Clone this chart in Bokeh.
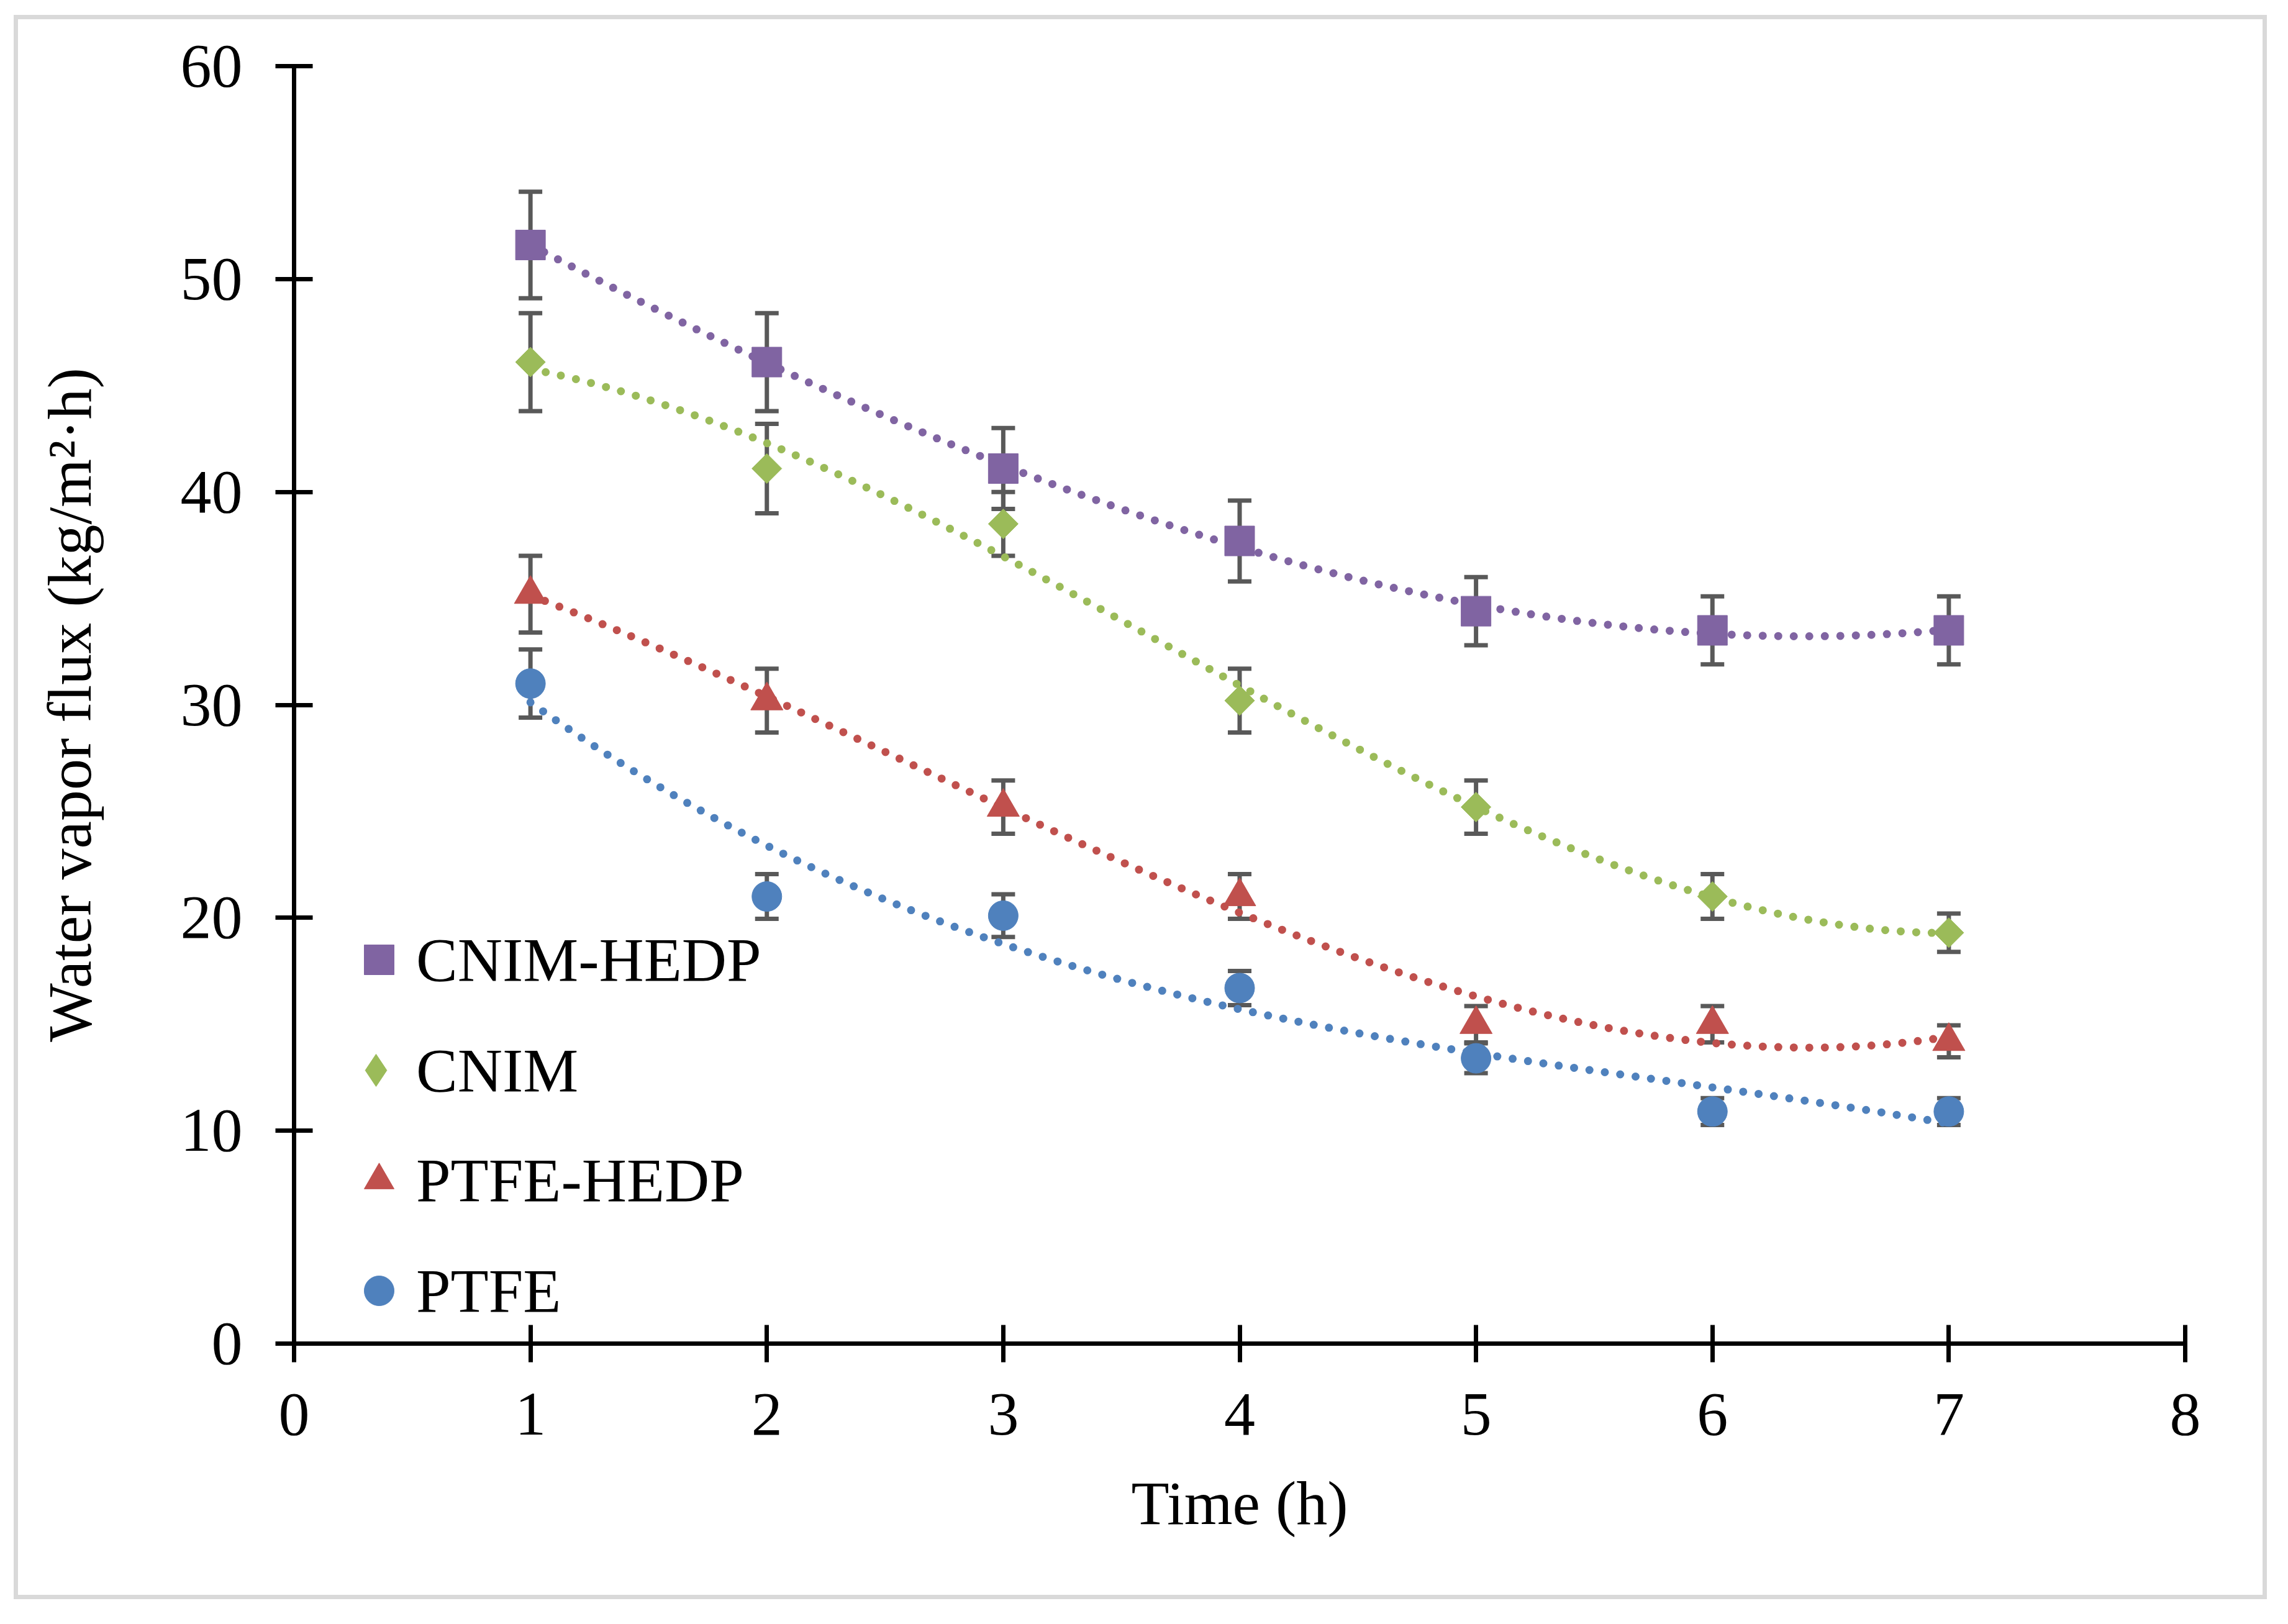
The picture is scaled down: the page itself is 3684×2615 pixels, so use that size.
import numpy as np
from bokeh.plotting import figure
from bokeh.models import (ColumnDataSource, Whisker, TeeHead, Legend, LegendItem,
                          FixedTicker, Range1d)
from bokeh.embed import file_html
from bokeh.resources import INLINE

# ---------------- data ----------------
time_h = [1, 2, 3, 4, 5, 6, 7]

cnim_hedp = [51.6, 46.1, 41.1, 37.7, 34.4, 33.5, 33.5]
cnim_hedp_err = [2.5, 2.3, 1.9, 1.9, 1.6, 1.6, 1.6]

cnim = [46.1, 41.1, 38.5, 30.2, 25.2, 21.0, 19.3]
cnim_err = [2.3, 2.1, 1.5, 1.5, 1.25, 1.05, 0.9]

ptfe_hedp = [35.2, 30.2, 25.2, 21.0, 15.0, 15.0, 14.2]
ptfe_hedp_err = [1.8, 1.5, 1.25, 1.05, 0.85, 0.85, 0.75]

ptfe = [31.0, 21.0, 20.1, 16.7, 13.4, 10.9, 10.9]
ptfe_err = [1.6, 1.05, 1.0, 0.8, 0.7, 0.63, 0.63]

x_ticks = [0, 1, 2, 3, 4, 5, 6, 7, 8]
y_ticks = [0, 10, 20, 30, 40, 50, 60]

FONT = "Liberation Serif"
FS = "100px"
ERR_COLOR = "#595959"

p = figure(width=3628, height=2551, output_backend="svg", toolbar_location=None,
           x_range=Range1d(0, 8), y_range=Range1d(0, 60),
           min_border_left=444, min_border_right=139, min_border_top=75, min_border_bottom=419,
           background_fill_color="white", border_fill_color="white")
p.styles = {"margin-left": "22px", "margin-top": "24px",
            "border": "7px solid #d9d9d9"}
p.outline_line_color = None
p.xgrid.grid_line_color = None
p.ygrid.grid_line_color = None

for ax, ticks in ((p.xaxis, x_ticks), (p.yaxis, y_ticks)):
    ax.ticker = FixedTicker(ticks=ticks)
    ax.axis_line_width = 7
    ax.axis_line_color = "black"
    ax.major_tick_line_width = 7
    ax.major_tick_line_color = "black"
    ax.major_tick_in = 30
    ax.major_tick_out = 30
    ax.minor_tick_line_color = None
    ax.major_label_text_font = FONT
    ax.major_label_text_font_size = FS
    ax.major_label_text_color = "black"
    ax.axis_label_text_font = FONT
    ax.axis_label_text_font_size = FS
    ax.axis_label_text_font_style = "normal"
    ax.axis_label_text_color = "black"

p.xaxis.axis_label = "Time (h)"
p.yaxis.axis_label = "Water vapor flux (kg/m²·h)"
p.xaxis.major_label_standoff = 51
p.yaxis.major_label_standoff = 53
p.xaxis.axis_label_standoff = 52
p.yaxis.axis_label_standoff = 120

series = [
    ("CNIM-HEDP", cnim_hedp, cnim_hedp_err, "#8064A2", "square", 48, 0.0),
    ("CNIM", cnim, cnim_err, "#9BBB59", "square", 34, np.pi / 4),
    ("PTFE-HEDP", ptfe_hedp, ptfe_hedp_err, "#C0504D", "triangle", 52, 0.0),
    ("PTFE", ptfe, ptfe_err, "#4F81BD", "circle", 48, 0.0),
]

xs_fit = np.linspace(min(time_h), max(time_h), 300)
legend_renderers = {}

# trend lines (3rd order polynomial fits)
for name, vals, err, color, marker, size, ang in series:
    coef = np.polyfit(time_h, vals, 3)
    p.line(xs_fit, np.polyval(coef, xs_fit), line_color=color, line_width=13,
           line_dash="0 25", line_cap="round")

# error bars
for name, vals, err, color, marker, size, ang in series:
    src = ColumnDataSource(dict(x=time_h,
                                upper=[v + e for v, e in zip(vals, err)],
                                lower=[v - e for v, e in zip(vals, err)]))
    w = Whisker(source=src, base="x", upper="upper", lower="lower", dimension="height",
                line_color=ERR_COLOR, line_width=7, level="underlay",
                upper_head=TeeHead(size=38, line_color=ERR_COLOR, line_width=7),
                lower_head=TeeHead(size=38, line_color=ERR_COLOR, line_width=7))
    p.add_layout(w)

# markers
for name, vals, err, color, marker, size, ang in series:
    r = p.scatter(time_h, vals, marker=marker, size=size, angle=ang,
                  fill_color=color, line_color=color, line_width=1)
    legend_renderers[name] = r

# the legend does not rotate markers, so the CNIM entry uses a diamond glyph
cnim_leg = p.scatter(time_h, cnim, marker="diamond", size=48,
                     fill_color="#9BBB59", line_color="#9BBB59", visible=False)
legend_renderers["CNIM"] = cnim_leg

# legends: (name, glyph box, x offset, y offset from frame bottom-left)
legend_layout = [
    ("CNIM-HEDP", 120, 77, 558),
    ("CNIM", 130, 67, 375),
    ("PTFE-HEDP", 120, 77, 203),
    ("PTFE", 120, 77, 25),
]
for name, gsz, xo, yo in legend_layout:
    leg = Legend(items=[LegendItem(label=name, renderers=[legend_renderers[name]])],
                 location=(xo, yo), glyph_width=gsz, glyph_height=gsz,
                 label_standoff=0, padding=0, margin=0, spacing=0,
                 label_height=gsz, border_line_color=None, background_fill_alpha=0,
                 label_text_font=FONT, label_text_font_size=FS, label_text_color="black")
    p.add_layout(leg, "center")

open("out.html", "w").write(file_html(p, INLINE))
